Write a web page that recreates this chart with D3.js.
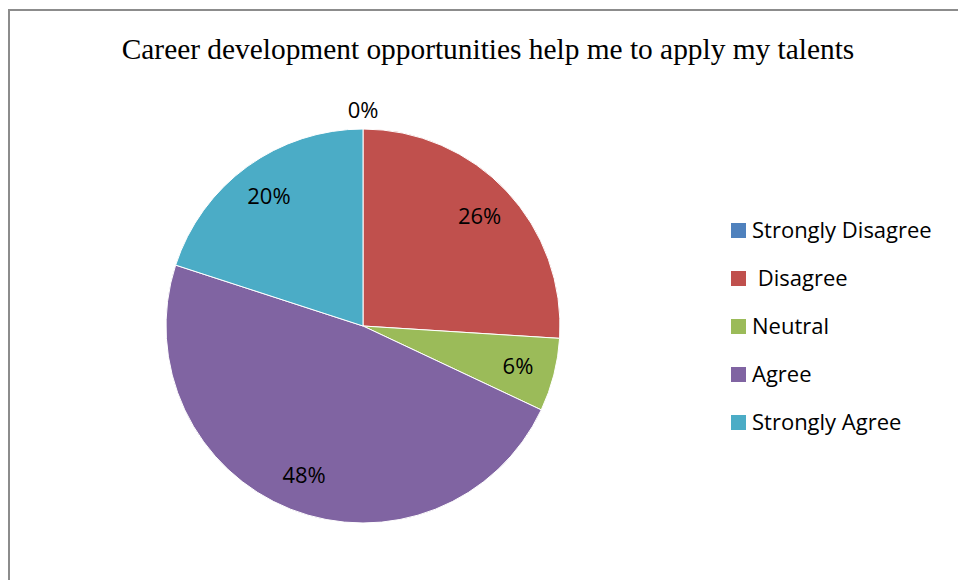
<!DOCTYPE html>
<html><head><meta charset="utf-8">
<script src="https://cdn.jsdelivr.net/npm/d3@7"></script>
<style>html,body{margin:0;padding:0;background:#fff;overflow:hidden}</style>
</head><body>
<svg id="c" width="958" height="580"></svg>
<script>
const categories = ["Strongly Disagree", " Disagree", "Neutral", "Agree", "Strongly Agree"];
const values = [0, 26, 6, 48, 20];
const colors = ["#4F81BD", "#C0504D", "#9BBB59", "#8064A2", "#4BACC6"];
const title = "Career development opportunities help me to apply my talents";

const svg = d3.select("#c");
// frame (left and top edges visible)
svg.append("path").attr("d", "M9,580 V10 H958").attr("fill", "none")
  .attr("stroke", "#8c8c8c").attr("stroke-width", 2);

const t = svg.append("text").attr("x", 488).attr("y", 59).attr("text-anchor", "middle")
  .attr("font-family", "Liberation Serif, Times New Roman, serif").attr("font-size", 25)
  .attr("fill", "#000").text(title);
const tw = t.node().getComputedTextLength();
t.attr("font-size", 25 * 733 / tw);

const cx = 363, cy = 326, r = 197;
const g = svg.append("g").attr("transform", `translate(${cx},${cy})`);
const pie = d3.pie().sort(null).value(d => d)(values);
const arc = d3.arc().innerRadius(0).outerRadius(r);
g.selectAll("path.s").data(pie).join("path").attr("class", "s")
  .attr("d", arc).attr("fill", (d, i) => colors[i]).attr("stroke", "#fff").attr("stroke-width", 1);

const labArc = d3.arc().innerRadius(160).outerRadius(160);
const outArc = d3.arc().innerRadius(216).outerRadius(216);
g.selectAll("text.l").data(pie).join("text").attr("class", "l")
  .attr("transform", d => `translate(${(d.value === 0 ? outArc : labArc).centroid(d)})`)
  .attr("text-anchor", "middle").attr("dy", "0.36em")
  .attr("font-family", "Open Sans, Liberation Sans, sans-serif").attr("font-size", 22)
  .attr("fill", "#000").text(d => d.value + "%");

const leg = svg.append("g").attr("transform", "translate(731,230)");
const li = leg.selectAll("g").data(categories).join("g")
  .attr("transform", (d, i) => `translate(0,${i * 48})`);
li.append("rect").attr("x", 0).attr("y", -7).attr("width", 15).attr("height", 15)
  .attr("fill", (d, i) => colors[i]);
li.append("text").attr("x", 21).attr("dy", "0.36em").style("white-space", "pre")
  .attr("font-family", "Open Sans, Liberation Sans, sans-serif").attr("font-size", 22)
  .attr("fill", "#000").text(d => d);
</script>
</body></html>
